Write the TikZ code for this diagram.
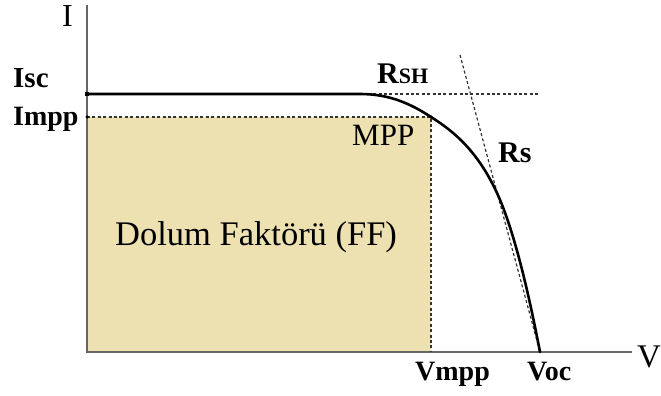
\documentclass[tikz,border=0pt]{standalone}
\usepackage{fontspec}
\setmainfont{Liberation Serif}
\usetikzlibrary{positioning}

\definecolor{ffsand}{RGB}{237,225,177}

\begin{document}
\begin{tikzpicture}[x=1pt,y=-1pt]

					\tikzstyle{axis} = [
						draw=black!60,
						line width=1.3pt
					]
					\tikzstyle{guide} = [
						draw=black!80,
						line width=1.2pt,
						dash pattern=on 3pt off 2.4pt
					]
					\tikzstyle{ivcurve} = [
						draw=black,
						line width=2.6pt,
						line cap=round,
						line join=round
					]
					\tikzstyle{lbl} = [
						inner sep=0pt,
						anchor=base west
					]
					\tikzstyle{tick} = [
						fill=black,
						inner sep=0pt,
						minimum size=4pt
					]

					\useasboundingbox (0,0) rectangle (661,396);

					\coordinate (O) at (87,352);
					\coordinate (Itop) at (87,5);
					\coordinate (Vend) at (632,352);
					\coordinate (Isc) at (87,94);
					\coordinate (Impp) at (87,117);
					\coordinate (knee) at (360,94);
					\coordinate (mpp) at (431,117);
					\coordinate (bend) at (497,193);
					\coordinate (Vmpp) at (431,352);
					\coordinate (Voc) at (540,352);
					\coordinate (rshL) at (330,94);
					\coordinate (rshR) at (540,94);
					\coordinate (rsTop) at (460,55);

					\fill [ffsand] (Impp) rectangle (Vmpp);

					\draw [axis] (Itop) -- (O) -- (Vend);

					\draw [guide] (Impp) -- (mpp) -- (Vmpp);
					\draw [guide] (rshL) -- (rshR);
					\draw [guide] (rsTop) -- (Voc);

					\draw [ivcurve] (Isc) -- (knee)
						.. controls (390,94) and (411,104) .. (mpp)
						.. controls (455,132) and (478,152) .. (bend)
						.. controls (515,232) and (530,300) .. (Voc);

					\node (iscdot) [style=tick] at (Isc) {};
					\node (imppdot) [style=tick, circle, minimum size=3.5pt] at (Impp) {};
					\node (mppdot) [style=tick, circle, minimum size=3.5pt] at (mpp) {};

					\node (Ilbl) [style=lbl, font=\fontsize{32}{36}\selectfont] at (62,27) {I};
					\node (Vlbl) [style=lbl, font=\fontsize{33}{36}\selectfont] at (637,367) {V};
					\node (Isclbl) [style=lbl, font=\fontsize{29}{34}\selectfont\bfseries] at (13,88) {Isc};
					\node (Impplbl) [style=lbl, font=\fontsize{28}{34}\selectfont\bfseries] at (13,125) {Impp};
					\node (Vmpplbl) [style=lbl, font=\fontsize{28}{34}\selectfont\bfseries] at (415,380) {Vmpp};
					\node (Voclbl) [style=lbl, font=\fontsize{28}{34}\selectfont\bfseries] at (527,380) {Voc};
					\node (Rshlbl) [style=lbl, font=\fontsize{30}{34}\selectfont\bfseries] at (377,83) {R{\fontsize{22}{26}\selectfont SH}};
					\node (Rslbl) [style=lbl, font=\fontsize{30}{34}\selectfont\bfseries] at (498,162) {Rs};
					\node (MPPlbl) [style=lbl, font=\fontsize{31}{36}\selectfont] at (352,145) {MPP};
					\node (FFlbl) [style=lbl, font=\fontsize{34.5}{40}\selectfont] at (115,245) {Dolum Faktörü (FF)};

				\end{tikzpicture}
\end{document}
